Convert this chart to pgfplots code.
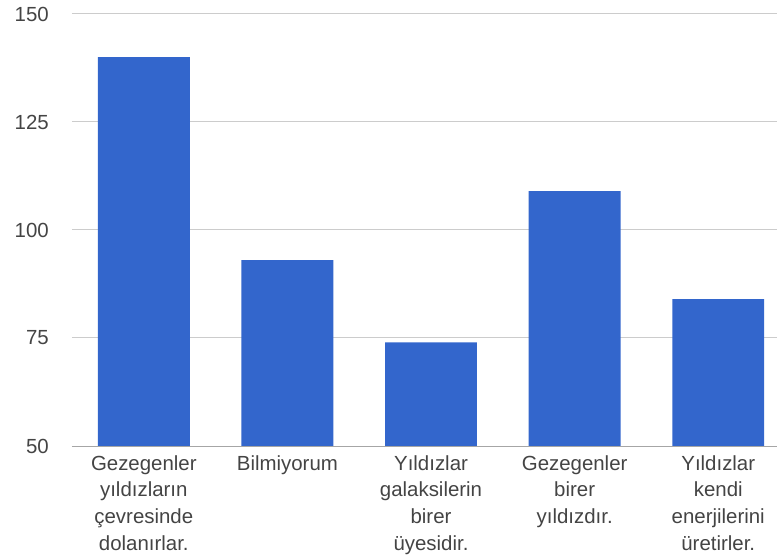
\documentclass[border=0pt]{standalone}
\usepackage{pgfplots}
\pgfplotsset{compat=1.18}
\usepackage{fontspec}
\setmainfont{Liberation Sans}
\definecolor{barblue}{HTML}{3366CC}
\definecolor{gridgray}{HTML}{CCCCCC}
\definecolor{txt}{HTML}{444444}
\begin{document}
\begin{tikzpicture}[x=1bp,y=1bp]
\path[use as bounding box] (-72bp,-111bp) rectangle (705bp,446bp);
\begin{axis}[
  at={(0,0)}, anchor=south west,
  scale only axis, width=705bp, height=432bp,
  xmin=-0.5, xmax=4.409, ymin=50, ymax=150,
  ytick={50,75,100,125,150},
  xtick={0,1,2,3,4},
  xticklabels={{Gezegenler\\yıldızların\\çevresinde\\dolanırlar.},{Bilmiyorum},{Yıldızlar\\galaksilerin\\birer\\üyesidir.},{Gezegenler\\birer\\yıldızdır.},{Yıldızlar\\kendi\\enerjilerini\\üretirler.}},
  xticklabel style={align=center, font=\fontsize{20.5}{27}\selectfont, text=txt, inner sep=0pt, yshift=-9bp},
  yticklabel style={font=\fontsize{20.5}{24}\selectfont, text=txt, inner sep=0pt, xshift=-23bp},
  /pgf/number format/assume math mode=true,
  axis line style={draw=none},
  major tick length=0pt,
  ymajorgrids, grid style={gridgray, line width=1bp},
  ybar, bar width=0.64, bar shift=0pt,
]
\addplot[fill=barblue, draw=none] coordinates {(0,140) (1,93) (2,74) (3,109) (4,84)};
\draw[color=gray!70, line width=1bp] (axis cs:-0.5,50) -- (axis cs:4.409,50);
\end{axis}
\end{tikzpicture}
\end{document}
